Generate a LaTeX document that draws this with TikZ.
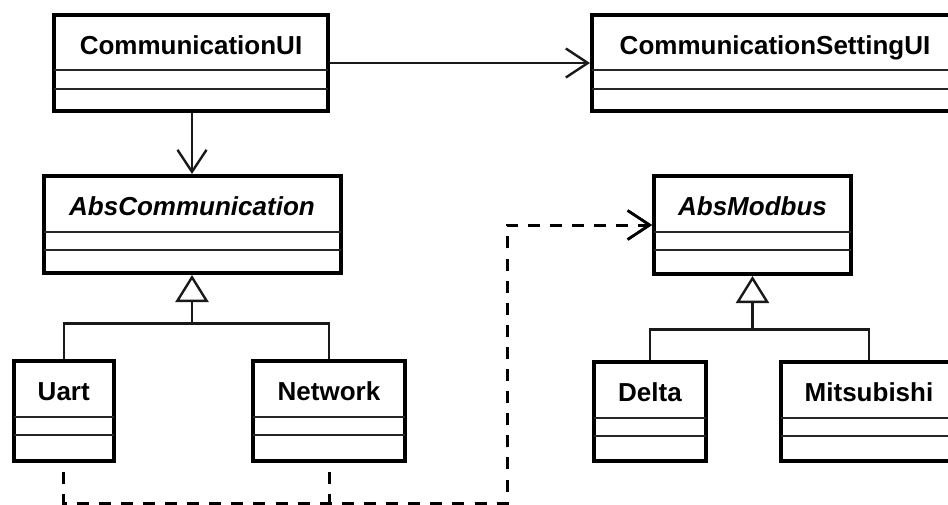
\documentclass[tikz,border=0pt]{standalone}
\usepackage{fontspec}
\setmainfont{Liberation Sans}
\usetikzlibrary{arrows.meta}

\tikzset{
  classbox/.style={draw=black, line width=4pt, fill=white, inner sep=0pt},
  sepline/.style={draw=black!85, line width=2pt},
  classtitle/.style={font=\fontsize{26}{30}\selectfont\bfseries, anchor=base, inner sep=0pt},
  abstracttitle/.style={classtitle, font=\fontsize{26}{30}\selectfont\bfseries\itshape},
  link/.style={draw=black!90, line width=2.4pt},
  assoc/.style={link, -{Straight Barb[length=22pt, width=29pt, line width=2.4pt]}},
  % dash period chosen so the two dependency paths share the same phase where they overlap
  depend/.style={link, draw=black, line width=3pt, dash pattern=on 12pt off 10.104pt, dash phase=13.1pt,
                 -{Straight Barb[length=22pt, width=29pt, line width=2.6pt]}},
  generalize/.style={link, -{Triangle[open, length=27pt, width=33pt, line width=2.4pt]}},
}

% \umlclass[title style]{name}{left}{top}{right}{bottom}, title in \umltitletext
\newcommand\umlclass[6][classtitle]{%
  \node[classbox, minimum width={#5-#3}, minimum height={#6-#4}]
    (#2) at ({(#3+#5)/2},{(#4+#6)/2}) {};
  \draw[sepline] (#3,{#4+55.5}) -- (#5,{#4+55.5});
  \draw[sepline] (#3,{#4+74}) -- (#5,{#4+74});
  \node[#1] (#2-title) at ({(#3+#5)/2},{#4+39.5}) {\umltitletext};
}

\begin{document}
\begin{tikzpicture}[x=1pt, y=-1pt]
  \useasboundingbox (0,0) rectangle (948,504);
  \clip (0,0) rectangle (948,504);
  \fill[white] (0,0) rectangle (948,504);

  % classes
  \def\umltitletext{CommunicationUI}
  \umlclass{cui}{54}{14.5}{328}{111}
  \def\umltitletext{CommunicationSettingUI}
  \umlclass{csui}{592}{14.5}{958}{111}
  \def\umltitletext{AbsCommunication}
  \umlclass[abstracttitle]{abscomm}{43.5}{176}{340.5}{273}
  \def\umltitletext{AbsModbus}
  \umlclass[abstracttitle]{absmodbus}{654}{176}{851}{274}
  \def\umltitletext{Uart}
  \umlclass{uart}{13.5}{361}{114}{461}
  \def\umltitletext{Network}
  \umlclass{network}{253}{361}{405}{461}
  \def\umltitletext{Delta}
  \umlclass{delta}{594}{362}{706}{461}
  \def\umltitletext{Mitsubishi}
  \umlclass{mitsubishi}{781}{362}{957}{461}

  % junction points
  \coordinate (commjoin) at (192,323.3);
  \coordinate (modjoin) at (752.5,329.3);
  \coordinate (busbottom) at (507,503.3);

  % associations
  \draw[assoc] (cui.east |- 0,63) -- (csui.west |- 0,63);
  \draw[assoc] (cui.south -| abscomm.north) -- (abscomm.north);

  % generalizations
  \draw[link] (uart.north) |- (commjoin) -| (network.north);
  \draw[generalize] (commjoin) -- (abscomm.south);
  \draw[link] (delta.north) |- (modjoin) -| (mitsubishi.north);
  \draw[generalize] (modjoin) -- (absmodbus.south);

  % dependencies
  \draw[depend] (uart.south) |- (busbottom) |- (absmodbus.west);
  \draw[depend] (network.south) |- (busbottom) |- (absmodbus.west);
\end{tikzpicture}
\end{document}
